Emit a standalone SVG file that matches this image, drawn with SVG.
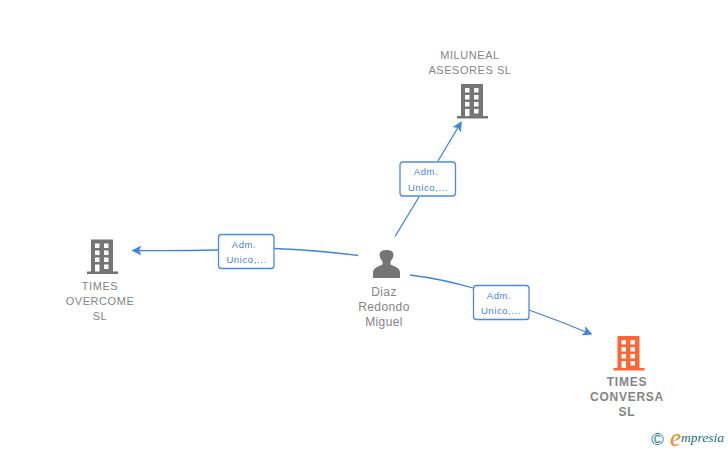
<svg xmlns="http://www.w3.org/2000/svg" width="728" height="450" viewBox="0 0 728 450">
<style>
text{font-family:"Liberation Sans",Arial,sans-serif}
.n{font-size:11px;fill:#858585;text-anchor:middle;letter-spacing:.55px}
.p{font-size:12px;letter-spacing:.4px}
.b{font-weight:700;font-size:12px;letter-spacing:.75px}
.l{font-size:9.500px;fill:#3f7fdc;text-anchor:middle;letter-spacing:.6px}
.c{fill:none;stroke:#3f84e0;stroke-width:1.3}
.box{fill:#fff;stroke:#4a8ae4;stroke-width:1.3}
.logo{font-family:"Liberation Serif",serif;font-style:italic}
</style>
<defs>
<path id="bld" fill-rule="evenodd" d="M4 0H26V32H31V34.500H0V32H4ZM8 4V8.500H12.500V4ZM17 4V8.500H21.500V4ZM8 11V15.500H12.500V11ZM17 11V15.500H21.500V11ZM8 18V22.500H12.500V18ZM17 18V22.500H21.500V18ZM8 25V32H12.500V25ZM17 25V29.500H21.500V25Z"/>
<marker id="arr" viewBox="0 0 10 10" refX="8.500" refY="5" markerWidth="10" markerHeight="10" markerUnits="userSpaceOnUse" orient="auto"><path d="M0 0L10 5L0 10L2.500 5Z" fill="#3f84e0"/></marker>
</defs>
<g id="connectors">
<path class="c" marker-end="url(#arr)" d="M395 236.500L419 197M438 161L461 122.500"/>
<path class="c" marker-end="url(#arr)" d="M358 255.500Q316 250 274 248.500M218 250Q175 251 133 250.500"/>
<path class="c" marker-end="url(#arr)" d="M410 275Q442 279 473 288M529 310Q560 321 591 334"/>
</g>
<g id="edge-label-1"><rect class="box" x="400" y="162" width="55.500" height="34" rx="3"/><text class="l" x="426" y="175">Adm.</text><text class="l" x="428" y="190.500">Unico,...</text></g>
<g id="edge-label-2"><rect class="box" x="218.500" y="234.500" width="55.500" height="34" rx="3"/><text class="l" x="244" y="248">Adm.</text><text class="l" x="246.500" y="263">Unico,...</text></g>
<g id="edge-label-3"><rect class="box" x="473.500" y="285.500" width="55.500" height="34" rx="3"/><text class="l" x="499" y="299">Adm.</text><text class="l" x="501" y="314">Unico,...</text></g>
<g id="node-miluneal"><use href="#bld" x="457" y="84" fill="#757575"/><text class="n" x="470" y="59">MILUNEAL</text><text class="n" x="470" y="74">ASESORES SL</text></g>
<g id="node-overcome"><use href="#bld" x="87" y="239.500" fill="#757575"/><text class="n" x="100" y="290">TIMES</text><text class="n" x="100" y="305">OVERCOME</text><text class="n" x="100" y="320">SL</text></g>
<g id="node-person"><path fill="#757575" d="M373 278V272.500Q373 268.500 378 266.500L382.500 264.500V261.500Q379.500 258.500 379.500 255Q379.500 250 386.500 250Q393.500 250 393.500 255Q393.500 258.500 390.500 261.500V264.500L395 266.500Q400 268.500 400 272.500V278Z"/><text class="n p" x="384" y="296">Diaz</text><text class="n p" x="384" y="311">Redondo</text><text class="n p" x="384" y="326">Miguel</text></g>
<g id="node-conversa"><use href="#bld" x="613.500" y="336" fill="#ff6633"/><text class="n b" x="627" y="386">TIMES</text><text class="n b" x="627" y="401">CONVERSA</text><text class="n b" x="627" y="416">SL</text></g>
<g id="logo"><text x="657.500" y="444.500" font-size="17" fill="#1a7a8c" text-anchor="middle">©</text><text class="logo" x="670" y="446" font-size="25" fill="#f08a1d">e</text><text class="logo" x="681" y="442" font-size="13.500" fill="#1a6f80">mpresia</text></g>
</svg>
